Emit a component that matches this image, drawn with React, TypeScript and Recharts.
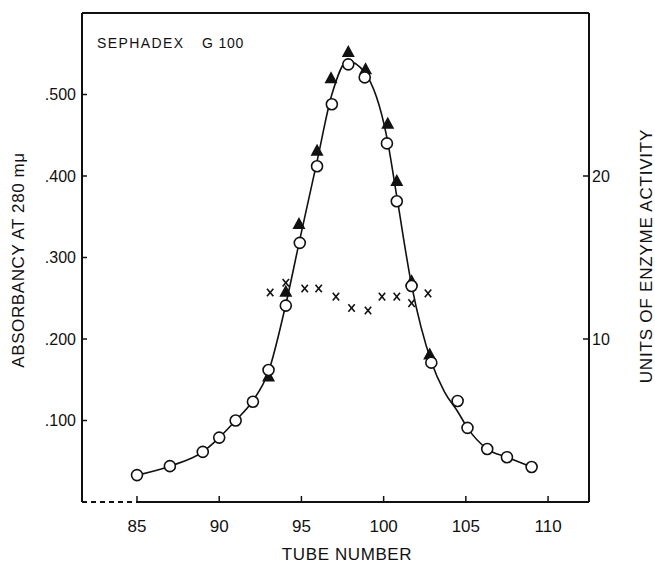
import { ComposedChart, Line, ReferenceLine, Scatter, XAxis, YAxis } from "recharts";

const tubeTicks = [85, 90, 95, 100, 105, 110];
const absorbanceTicks = [0.1, 0.2, 0.3, 0.4, 0.5];
const activityTicks = [10, 20];

// open circles: absorbancy at 280 mµ
const circleTubes = [85, 87, 89, 90, 91, 92.05, 93, 94.05, 94.9, 95.95, 96.85, 97.85, 98.85, 100.2, 100.8, 101.7, 102.9, 104.5, 105.1, 106.3, 107.5, 109];
const circleAbs = [0.033, 0.044, 0.0615, 0.079, 0.1, 0.123, 0.162, 0.241, 0.318, 0.412, 0.488, 0.537, 0.521, 0.44, 0.369, 0.265, 0.171, 0.124, 0.091, 0.065, 0.055, 0.043];

// filled triangles
const triangleTubes = [93, 94.05, 94.85, 95.95, 96.8, 97.85, 98.9, 100.25, 100.8, 101.7, 102.8];
const triangleAbs = [0.154, 0.258, 0.341, 0.431, 0.52, 0.552, 0.531, 0.464, 0.394, 0.271, 0.181];

// crosses: units of enzyme activity (right axis)
const crossTubes = [93.1, 94.05, 95.2, 96.05, 97.1, 98.05, 99.05, 99.9, 100.8, 101.7, 102.7];
const crossUnits = [12.85, 13.45, 13.1, 13.1, 12.6, 11.9, 11.75, 12.6, 12.6, 12.2, 12.8];

// the drawn smooth curve
const curveTubes = [85, 87, 89, 90, 91, 92, 93, 94, 94.9, 95.95, 96.85, 97.8, 98.85, 100.2, 100.8, 101.7, 102.9, 103.7, 104.5, 105.1, 106.3, 107.5, 109];
const curveAbs = [0.033, 0.044, 0.0615, 0.079, 0.1, 0.123, 0.16, 0.238, 0.322, 0.418, 0.5, 0.541, 0.527, 0.447, 0.375, 0.266, 0.172, 0.135, 0.111, 0.091, 0.065, 0.055, 0.043];

const X_DOMAIN: [number, number] = [81.655, 112.49];
const FONT = "'Liberation Sans', Arial, sans-serif";
const INK = "#111";

const circles = circleTubes.map((x, i) => ({ x, y: circleAbs[i] }));
const triangles = triangleTubes.map((x, i) => ({ x, y: triangleAbs[i] }));
const crosses = crossTubes.map((x, i) => ({ x, y: crossUnits[i] }));
const curve = curveTubes.map((x, i) => ({ x, y: curveAbs[i] }));

const fmtAbs = (v: number) => "." + String(Math.round(v * 1000)).padStart(3, "0");

const OpenCircle = (p: any) => (
  <circle cx={p.cx} cy={p.cy} r={5.5} fill="#fff" stroke={INK} strokeWidth={1.6} />
);

const Triangle = (p: any) => (
  <path
    d={`M${p.cx},${p.cy - 7} L${p.cx + 6.5},${p.cy + 5} L${p.cx - 6.5},${p.cy + 5} Z`}
    fill={INK}
  />
);

const Cross = (p: any) => (
  <g stroke={INK} strokeWidth={1.6}>
    <line x1={p.cx - 3.2} y1={p.cy - 3.8} x2={p.cx + 3.2} y2={p.cy + 3.8} />
    <line x1={p.cx + 3.2} y1={p.cy - 3.8} x2={p.cx - 3.2} y2={p.cy + 3.8} />
  </g>
);

export default function App() {
  const tick = { fill: INK, fontSize: 16, fontFamily: FONT };
  return (
    <div style={{ position: "absolute", left: 0, top: 0, width: 655, height: 563, background: "#fff" }}>
      <ComposedChart
        width={655}
        height={563}
        margin={{ top: 13, right: 0, bottom: 0, left: 0 }}
      >
        <XAxis
          type="number"
          dataKey="x"
          domain={X_DOMAIN}
          allowDataOverflow
          ticks={tubeTicks}
          height={61}
          axisLine={false}
          tickSize={-6}
          tickMargin={24}
          tickLine={{ stroke: INK, strokeWidth: 1.5 }}
          tick={{ ...tick, fontSize: 17 }}
        />
        <YAxis
          yAxisId="abs"
          dataKey="y"
          domain={[0, 0.6]}
          allowDataOverflow
          ticks={absorbanceTicks}
          tickFormatter={fmtAbs}
          width={82}
          tickSize={-5}
          tickMargin={11}
          axisLine={{ stroke: INK, strokeWidth: 2 }}
          tickLine={{ stroke: INK, strokeWidth: 1.5 }}
          tick={tick}
        />
        <YAxis
          yAxisId="act"
          orientation="right"
          dataKey="y"
          domain={[0, 30]}
          allowDataOverflow
          ticks={activityTicks}
          width={66}
          tickSize={-6}
          tickMargin={9}
          axisLine={{ stroke: INK, strokeWidth: 2 }}
          tickLine={{ stroke: INK, strokeWidth: 1.5 }}
          tick={tick}
        />
        <ReferenceLine yAxisId="abs" y={0.6} stroke={INK} strokeWidth={2} ifOverflow="visible" />
        <ReferenceLine
          yAxisId="abs"
          segment={[{ x: X_DOMAIN[0], y: 0 }, { x: 85, y: 0 }]}
          stroke={INK}
          strokeWidth={2}
          strokeDasharray="5 4"
          ifOverflow="visible"
        />
        <ReferenceLine
          yAxisId="abs"
          segment={[{ x: 85, y: 0 }, { x: X_DOMAIN[1], y: 0 }]}
          stroke={INK}
          strokeWidth={2}
          ifOverflow="visible"
        />
        <Line
          yAxisId="abs"
          data={curve}
          dataKey="y"
          type="monotone"
          stroke={INK}
          strokeWidth={1.6}
          dot={false}
          activeDot={false}
          isAnimationActive={false}
        />
        <Scatter yAxisId="abs" data={triangles} dataKey="y" shape={Triangle} isAnimationActive={false} />
        <Scatter yAxisId="abs" data={circles} dataKey="y" shape={OpenCircle} isAnimationActive={false} />
        <Scatter yAxisId="act" data={crosses} dataKey="y" shape={Cross} isAnimationActive={false} />
      </ComposedChart>
      <svg
        width={655}
        height={563}
        style={{ position: "absolute", left: 0, top: 0, pointerEvents: "none" }}
        fontFamily={FONT}
        fill={INK}
      >
        <text x={97} y={48} fontSize={14} letterSpacing={1.4}>SEPHADEX</text>
        <text x={202} y={48} fontSize={14} letterSpacing={0.8}>G 100</text>
        <text x={347} y={560} fontSize={17} letterSpacing={0.6} textAnchor="middle">
          TUBE NUMBER
        </text>
        <text
          x={24}
          y={260}
          fontSize={17}
          letterSpacing={0.6}
          textAnchor="middle"
          transform="rotate(-90 24 260)"
        >
          ABSORBANCY AT 280 mμ
        </text>
        <text
          x={652}
          y={256}
          fontSize={17}
          letterSpacing={0.8}
          textAnchor="middle"
          transform="rotate(-90 652 256)"
        >
          UNITS OF ENZYME ACTIVITY
        </text>
      </svg>
    </div>
  );
}
